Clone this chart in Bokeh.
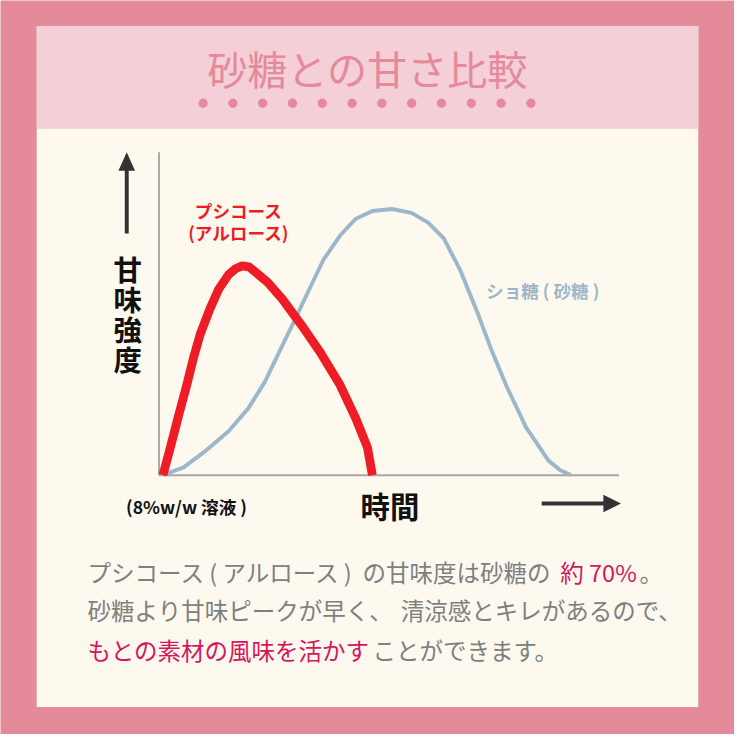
from bokeh.plotting import figure
from bokeh.models import Range1d
from bokeh.embed import file_html
from bokeh.resources import INLINE
from bokeh.core.properties import value

# ---------------- data (time, sweetness intensity; arbitrary units 0-100) ----------------
psicose_time = [0.85, 2.55, 4.26, 5.96, 7.45, 8.94, 11.06, 12.98, 15.11, 16.60, 18.09, 19.57, 20.85,
                23.62, 26.81, 30.85, 35.11, 39.36, 42.77, 45.32, 46.38]
psicose_sweet = [0.0, 9.1, 18.5, 27.6, 36.1, 43.6, 51.5, 57.6, 62.1, 63.9, 64.8, 64.5, 63.0,
                 59.7, 54.5, 46.7, 37.9, 27.9, 17.6, 8.5, 0.0]

sucrose_time = [0.85, 5.32, 10.21, 15.11, 19.36, 22.98, 25.74, 29.36, 32.98, 35.74, 39.36, 42.77,
                46.38, 50.64, 54.89, 58.51, 61.91, 65.53, 69.15, 72.34, 75.53, 79.79, 84.68,
                87.23, 89.57]
sucrose_sweet = [0.0, 2.4, 7.6, 13.6, 20.6, 28.8, 37.0, 47.6, 58.5, 66.7, 74.2, 79.4,
                 81.8, 82.4, 81.2, 78.2, 73.3, 63.3, 50.6, 38.5, 27.6, 14.8, 4.5,
                 1.5, 0.0]

axis_time = [0, 100]
axis_sweet = [0, 100]

title_text = "砂糖との甘さ比較"
psicose_label = ["プシコース", "(アルロース)"]
sucrose_label = "ショ糖 ( 砂糖 )"
y_label = "甘\n味\n強\n度"
x_label = "時間"
note_label = "(8%w/w 溶液 )"

# ---------------- layout (design drawn on a 750 px artboard, scaled to the figure) ----------------
W = H = 734
ART = 750.0
S = W / ART
X0, PX_T = 162.0, 4.7
Y0, PX_V = 485.0, 3.3


def fx(X):
    return (X - X0) / PX_T


def fy(Y):
    return (Y0 - Y) / PX_V


def fs(px):
    return "%.1fpx" % (px * S)


PINK = "#E48A9A"
HEADER = "#F4CFD7"
CREAM = "#FDF9EE"
RED = "#EE1D25"
BLUE = "#9DB7CA"
GRAY_AX = "#A8A8A8"
DARK = "#333333"
TXT_GRAY = "#7F7F7F"
CRIMSON = "#D4175C"
FONT = value("Noto Sans CJK JP")

p = figure(width=W, height=H,
           x_range=Range1d(fx(0), fx(ART)),
           y_range=Range1d(fy(ART), fy(0)),
           output_backend="svg", toolbar_location=None,
           x_axis_location=None, y_axis_location=None,
           min_border=0, min_border_left=0, min_border_right=0,
           min_border_top=0, min_border_bottom=0)
p.grid.visible = False
p.outline_line_color = None
p.background_fill_color = PINK
p.border_fill_color = PINK

# panels
p.quad(left=fx(37), right=fx(713), top=fy(26), bottom=fy(722), fill_color=CREAM, line_color=None)
p.quad(left=fx(37), right=fx(713), top=fy(26), bottom=fy(131), fill_color=HEADER, line_color=None)

# title + dots
p.text(x=[fx(375)], y=[fy(68)], text=[title_text], text_font=FONT, text_font_size=fs(41),
       text_align="center", text_baseline="middle", text_color=PINK)
p.scatter(x=[fx(207 + i * 30.45) for i in range(12)], y=[fy(105)] * 12, size=9.5 * S,
          fill_color=PINK, line_color=None)

# axes
p.line(x=[axis_time[0], axis_time[0]], y=axis_sweet, line_color=GRAY_AX, line_width=2)
p.line(x=axis_time, y=[axis_sweet[0], axis_sweet[0]], line_color=GRAY_AX, line_width=2)

# curves
p.line(sucrose_time, sucrose_sweet, line_color=BLUE, line_width=4 * S, line_join="round")
p.line(psicose_time, psicose_sweet, line_color=RED, line_width=9 * S, line_join="round")

# arrows
p.segment(x0=[fx(129)], y0=[fy(238)], x1=[fx(129)], y1=[fy(172)], line_color=DARK, line_width=4 * S)
p.patch(x=[fx(120.5), fx(129), fx(137.5)], y=[fy(174), fy(155), fy(174)], fill_color=DARK, line_color=None)
p.segment(x0=[fx(553)], y0=[fy(514)], x1=[fx(619)], y1=[fy(514)], line_color=DARK, line_width=4 * S)
p.patch(x=[fx(616), fx(634), fx(616)], y=[fy(505), fy(514), fy(523)], fill_color=DARK, line_color=None)

# chart labels
p.text(x=[fx(243.5), fx(243.5)], y=[fy(215), fy(237)], text=psicose_label, text_font=FONT,
       text_font_size=fs(18), text_font_style="bold", text_align="center", text_baseline="middle",
       text_color=RED)
p.text(x=[fx(554)], y=[fy(296)], text=[sucrose_label], text_font=FONT, text_font_size=fs(18),
       text_font_style="bold", text_align="center", text_baseline="middle", text_color=BLUE)
p.text(x=[fx(130)], y=[fy(320)], text=[y_label], text_font=FONT, text_font_size=fs(29),
       text_font_style="bold", text_align="center", text_baseline="middle", text_color="#111111",
       text_line_height=0.735)
p.text(x=[fx(398)], y=[fy(516)], text=[x_label], text_font=FONT, text_font_size=fs(30),
       text_font_style="bold", text_align="center", text_baseline="middle", text_color="#111111")
p.text(x=[fx(190)], y=[fy(517)], text=[note_label], text_font=FONT, text_font_size=fs(18),
       text_font_style="bold", text_align="center", text_baseline="middle", text_color="#111111")

# body text (segments, left edges where each starts)
body_x = [89, 370, 572, 653, 89, 409, 89, 380]
body_y = [584, 584, 584, 584, 623, 623, 664, 664]
body_t = ["プシコース ( アルロース )", "の甘味度は砂糖の", "約 70%", "。",
          "砂糖より甘味ピークが早く、", "清涼感とキレがあるので、",
          "もとの素材の風味を活かす", "ことができます。"]
body_c = [TXT_GRAY, TXT_GRAY, CRIMSON, TXT_GRAY, TXT_GRAY, TXT_GRAY, CRIMSON, TXT_GRAY]
p.text(x=[fx(v) for v in body_x], y=[fy(v) for v in body_y], text=body_t, text_color=body_c,
       text_font=FONT, text_font_size=fs(24), text_align="left", text_baseline="middle")

open("out.html", "w").write(file_html(p, INLINE))
